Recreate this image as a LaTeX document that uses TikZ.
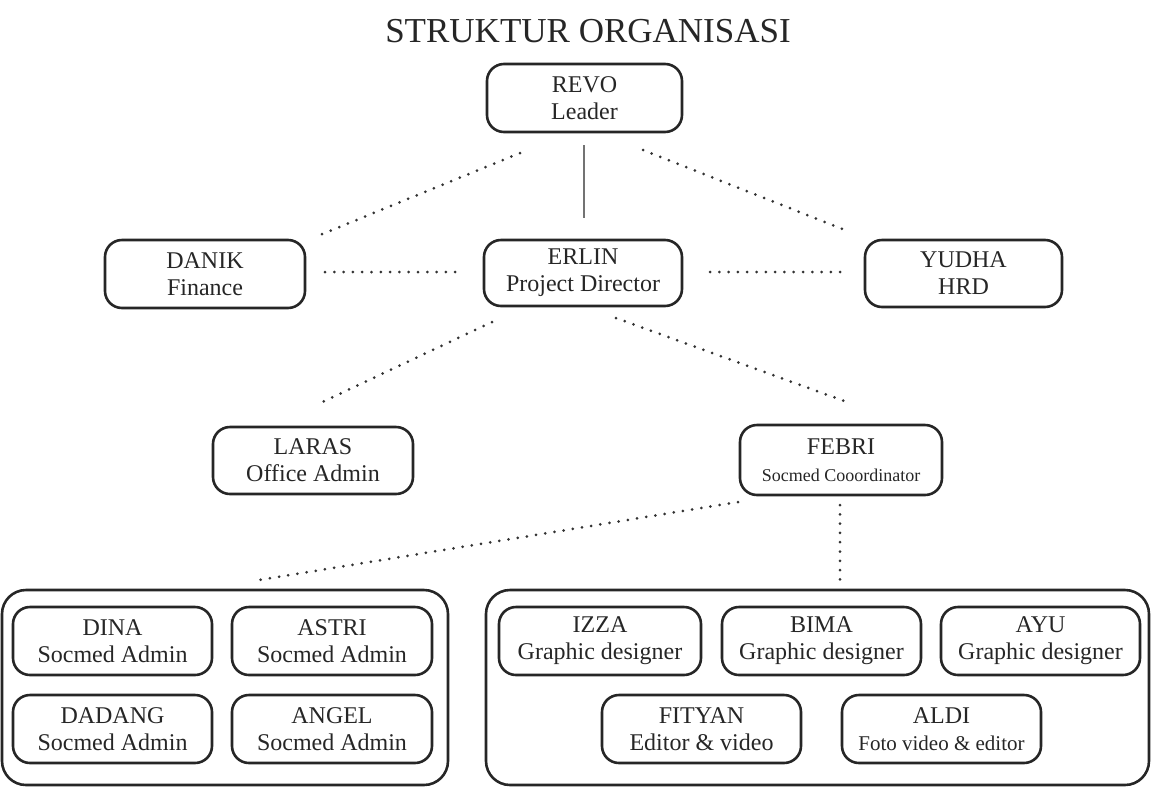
\documentclass[tikz,border=0pt]{standalone}
\usepackage{fontspec}
\setmainfont{Liberation Serif}
\begin{document}
\begin{tikzpicture}[x=1pt,y=-1pt,
  box/.style={draw=black!85,line width=2.6pt,rounded corners=17pt,align=center,
    minimum width=200pt,minimum height=68pt,inner sep=0pt,
    font=\fontsize{24}{27}\selectfont,text=black!85},
  group/.style={draw=black!85,line width=2.6pt,rounded corners=24pt,inner sep=0pt},
  dotline/.style={line width=3pt,line cap=round,dash pattern=on 0pt off 9.3pt,black!80},
  small/.style={font=\fontsize{18}{20}\selectfont}]
\useasboundingbox (0,0) rectangle (1152,788);
\node[font=\fontsize{35}{40}\selectfont,text=black!85] (title) at (588,31) {STRUKTUR ORGANISASI};

\node[box,minimum width=195pt] (revo) at (584.5,98) {REVO\\Leader};
\node[box,minimum width=198pt,minimum height=66pt] (erlin) at (583,273) {ERLIN\\Project Director};
\node[box] (danik) at (205,274) {DANIK\\Finance};
\node[box,minimum width=197pt,minimum height=67pt] (yudha) at (963.5,273.5) {YUDHA\\HRD};
\node[box,minimum height=67pt] (laras) at (313,460.5) {LARAS\\Office Admin};
\node[box,minimum width=202pt,minimum height=70pt] (febri) at (841,460) {FEBRI\\{\fontsize{18}{20}\selectfont Socmed Cooordinator}};

\node[group,minimum width=446pt,minimum height=195pt] (leftgrp) at (225,687.5) {};
\node[group,minimum width=663pt,minimum height=195pt] (rightgrp) at (817.5,687.5) {};

\node[box,minimum width=199pt] (dina) at (112.5,641) {DINA\\Socmed Admin};
\node[box] (astri) at (332,641) {ASTRI\\Socmed Admin};
\node[box,minimum width=199pt] (dadang) at (112.5,729) {DADANG\\Socmed Admin};
\node[box] (angel) at (332,729) {ANGEL\\Socmed Admin};

\node[box,minimum width=202pt] (izza) at (600,641) {IZZA\\Graphic designer};
\node[box,minimum width=199pt] (bima) at (821.5,641) {BIMA\\Graphic designer};
\node[box,minimum width=199pt] (ayu) at (1040.5,641) {AYU\\Graphic designer};
\node[box,minimum width=199pt] (fityan) at (701.5,729) {FITYAN\\Editor \& video};
\node[box,minimum width=199pt] (aldi) at (941.5,729) {ALDI\\{\fontsize{21}{24}\selectfont Foto video \& editor}};

% connector end points
\coordinate (revoL) at (520,153); \coordinate (danikT) at (315,237);
\coordinate (revoR) at (643,150); \coordinate (yudhaT) at (850,232);
\coordinate (revoB) at (584,145); \coordinate (erlinT) at (584,218);
\coordinate (danikR) at (325,272); \coordinate (erlinL) at (456,272);
\coordinate (erlinR) at (710,272); \coordinate (yudhaL) at (841,272);
\coordinate (erlinBL) at (492,322); \coordinate (larasT) at (316,405);
\coordinate (erlinBR) at (616,318); \coordinate (febriT) at (847,402);
\coordinate (febriB) at (840,505); \coordinate (rightT) at (840,580);
\coordinate (febriBL) at (738,502); \coordinate (leftT) at (259,580);

\draw[black!55,line width=1.1pt] (revoB) -- (erlinT);
\draw[dotline] (revoL) -- (danikT);
\draw[dotline] (revoR) -- (yudhaT);
\draw[dotline] (danikR) -- (erlinL);
\draw[dotline] (erlinR) -- (yudhaL);
\draw[dotline] (erlinBL) -- (larasT);
\draw[dotline] (erlinBR) -- (febriT);
\draw[dotline] (febriB) -- (rightT);
\draw[dotline] (febriBL) -- (leftT);
\end{tikzpicture}
\end{document}
